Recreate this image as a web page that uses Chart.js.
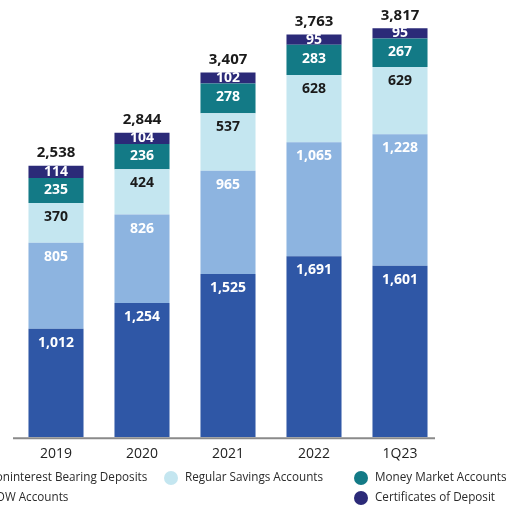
<!DOCTYPE html>
<html>
<head>
<meta charset="utf-8">
<script src="https://cdn.jsdelivr.net/npm/chart.js@4"></script>
<style>
  html, body { margin: 0; padding: 0; background: #fff; }
  #wrap { width: 513px; height: 510px; position: relative; }
</style>
</head>
<body>
<div id="wrap"><canvas id="deposits"></canvas></div>
<script>
// deposit mix by period ($ millions)
var periods = ['2019', '2020', '2021', '2022', '1Q23'];
var noninterest = [1012, 1254, 1525, 1691, 1601];
var nowAccounts = [805, 826, 965, 1065, 1228];
var savings = [370, 424, 537, 628, 629];
var moneyMarket = [235, 236, 278, 283, 267];
var certificates = [114, 104, 102, 95, 95];
var totals = [2538, 2844, 3407, 3763, 3817];

var seriesNames = ['Noninterest Bearing Deposits', 'NOW Accounts', 'Regular Savings Accounts',
  'Money Market Accounts', 'Certificates of Deposit'];
var seriesColors = ['#2f57a6', '#8db4e0', '#c4e6f0', '#137a86', '#2b2a78'];
var labelColors = ['#fff', '#fff', '#1a1a1a', '#fff', '#fff'];

var FONT = '"Open Sans", sans-serif';

function fmt(v) {
  return v.toLocaleString('en-US');
}

// values inside each segment, totals over each stack
var valueLabels = {
  id: 'valueLabels',
  afterDatasetsDraw: function(chart) {
    var ctx = chart.ctx;
    var area = chart.chartArea;
    ctx.save();
    // baseline stops a little short of the right edge
    ctx.strokeStyle = '#8a8a8a';
    ctx.lineWidth = 2;
    ctx.beginPath();
    ctx.moveTo(area.left, area.bottom + 1);
    ctx.lineTo(area.right - 8, area.bottom + 1);
    ctx.stroke();

    ctx.textAlign = 'center';
    ctx.textBaseline = 'middle';
    ctx.font = 'bold 14px ' + FONT;
    chart.data.datasets.forEach(function(ds, di) {
      var meta = chart.getDatasetMeta(di);
      meta.data.forEach(function(bar, i) {
        var h = bar.base - bar.y;
        ctx.fillStyle = labelColors[di];
        ctx.fillText(fmt(ds.data[i]), bar.x, bar.y + Math.min(14, h / 2));
      });
    });
    var top = chart.getDatasetMeta(chart.data.datasets.length - 1);
    ctx.fillStyle = '#1a1a1a';
    ctx.font = 'bold 15px ' + FONT;
    top.data.forEach(function(bar, i) {
      ctx.fillText(fmt(totals[i]), bar.x, bar.y - 13);
    });
    ctx.restore();
  }
};

// three-column legend under the axis
var legendSpots = [
  { x: -27, y: 478 },
  { x: -27, y: 498 },
  { x: 171, y: 478 },
  { x: 361, y: 478 },
  { x: 361, y: 498 }
];
var sideLegend = {
  id: 'sideLegend',
  afterDraw: function(chart) {
    var ctx = chart.ctx;
    ctx.save();
    ctx.font = '11.7px ' + FONT;
    ctx.textBaseline = 'middle';
    ctx.textAlign = 'left';
    seriesNames.forEach(function(name, i) {
      var p = legendSpots[i];
      ctx.fillStyle = seriesColors[i];
      ctx.beginPath();
      ctx.arc(p.x, p.y, 7, 0, Math.PI * 2);
      ctx.fill();
      ctx.fillStyle = '#2a2a2a';
      ctx.fillText(name, p.x + 14, p.y);
    });
    ctx.restore();
  }
};

var seriesData = [noninterest, nowAccounts, savings, moneyMarket, certificates];

var config = {
  type: 'bar',
  data: {
    labels: periods,
    datasets: seriesData.map(function(d, i) {
      return {
        label: seriesNames[i],
        data: d,
        backgroundColor: seriesColors[i],
        borderWidth: 0,
        categoryPercentage: 0.64,
        barPercentage: 1.0
      };
    })
  },
  options: {
    responsive: true,
    maintainAspectRatio: false,
    animation: false,
    layout: { padding: { left: 13, right: 70, top: 9, bottom: 40 } },
    scales: {
      x: {
        stacked: true,
        grid: { display: false, drawTicks: false },
        border: { display: false },
        ticks: { color: '#222', font: { family: FONT, size: 14 }, padding: 8 }
      },
      y: {
        stacked: true,
        display: false,
        min: 0,
        max: 4000
      }
    },
    plugins: {
      legend: { display: false },
      tooltip: { enabled: false }
    }
  },
  plugins: [valueLabels, sideLegend]
};

new Chart(document.getElementById('deposits').getContext('2d'), config);
</script>
</body>
</html>
